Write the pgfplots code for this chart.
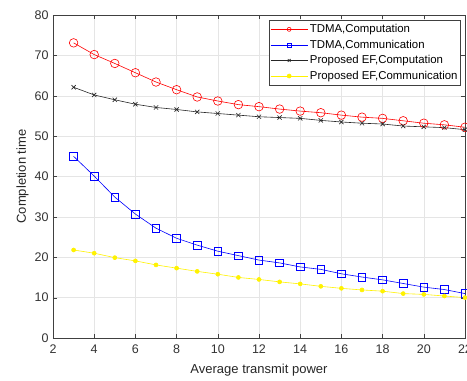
\documentclass[border=0pt]{standalone}
\usepackage{fontspec}
\setmainfont{Liberation Sans}
\usepackage{pgfplots}
\pgfplotsset{compat=1.18}
\begin{document}
\begin{tikzpicture}
\begin{axis}[
  at={(0,0)}, anchor=south west,
  scale only axis, width=412pt, height=323pt,
  xmin=2, xmax=22, ymin=0, ymax=80,
  xtick={2,4,...,22}, ytick={0,10,...,80},
  tick align=inside, major tick length=4pt,
  grid=major, grid style={gray!20, line width=0.5pt},
  axis line style={black!75, line width=0.6pt},
  tick style={black!75},
  every tick label/.append style={font=\fontsize{12.5}{14}\selectfont, black!80},
  xticklabel style={yshift=-3pt},
  yticklabel style={xshift=-1pt},
  /pgf/number format/assume math mode=true,
  xlabel={Average transmit power}, ylabel={Completion time},
  label style={font=\fontsize{13}{15}\selectfont, black!85},
  xlabel style={yshift=-4pt},
  ylabel style={yshift=-1pt},
  legend style={at={(rel axis cs:0.99,0.984)}, anchor=north east,
    font=\fontsize{11.4}{13}\selectfont, draw=black!75, line width=0.6pt,
    inner xsep=1pt, inner ysep=2pt, row sep=1.8pt, cells={anchor=west}},
  legend cell align=left,
  legend image code/.code={\draw[mark repeat=2,mark phase=2,mark size=2pt] plot coordinates {(0cm,0cm)(0.65cm,0cm)(1.3cm,0cm)};},
]
\addplot[red, line width=0.6pt, mark=o, mark size=4.3pt, mark options={line width=0.6pt}] coordinates {
(3,73.1)(4,70.2)(5,68)(6,65.7)(7,63.4)(8,61.5)(9,59.7)(10,58.7)(11,57.8)(12,57.3)(13,56.7)(14,56.2)(15,55.8)(16,55.2)(17,54.7)(18,54.4)(19,53.8)(20,53.2)(21,52.8)(22,52.2)};
\addlegendentry{TDMA,Computation}
\addplot[blue, line width=0.6pt, mark=square, mark size=3.8pt, mark options={line width=0.6pt}] coordinates {
(3,45)(4,40.1)(5,34.9)(6,30.7)(7,27.2)(8,24.7)(9,23)(10,21.5)(11,20.4)(12,19.3)(13,18.6)(14,17.6)(15,17)(16,15.9)(17,15.1)(18,14.4)(19,13.5)(20,12.6)(21,12)(22,11)};
\addlegendentry{TDMA,Communication}
\addplot[black!85, line width=0.6pt, mark=x, mark size=3pt, mark options={line width=0.6pt}] coordinates {
(3,62.1)(4,60.2)(5,59)(6,57.9)(7,57.1)(8,56.6)(9,56)(10,55.6)(11,55.2)(12,54.8)(13,54.6)(14,54.4)(15,53.9)(16,53.5)(17,53.2)(18,53)(19,52.5)(20,52.3)(21,52.1)(22,51.6)};
\addlegendentry{Proposed EF,Computation}
\addplot[yellow, line width=0.6pt, mark=*, mark size=2pt] coordinates {
(3,21.8)(4,21)(5,19.9)(6,19.1)(7,18.1)(8,17.3)(9,16.5)(10,15.8)(11,15)(12,14.5)(13,13.9)(14,13.4)(15,12.8)(16,12.3)(17,11.9)(18,11.6)(19,11)(20,10.8)(21,10.4)(22,10)};
\addlegendentry{Proposed EF,Communication}
\end{axis}
\pgfresetboundingbox
\useasboundingbox (-53pt,-43pt) rectangle (414pt,338pt);
\end{tikzpicture}
\end{document}
